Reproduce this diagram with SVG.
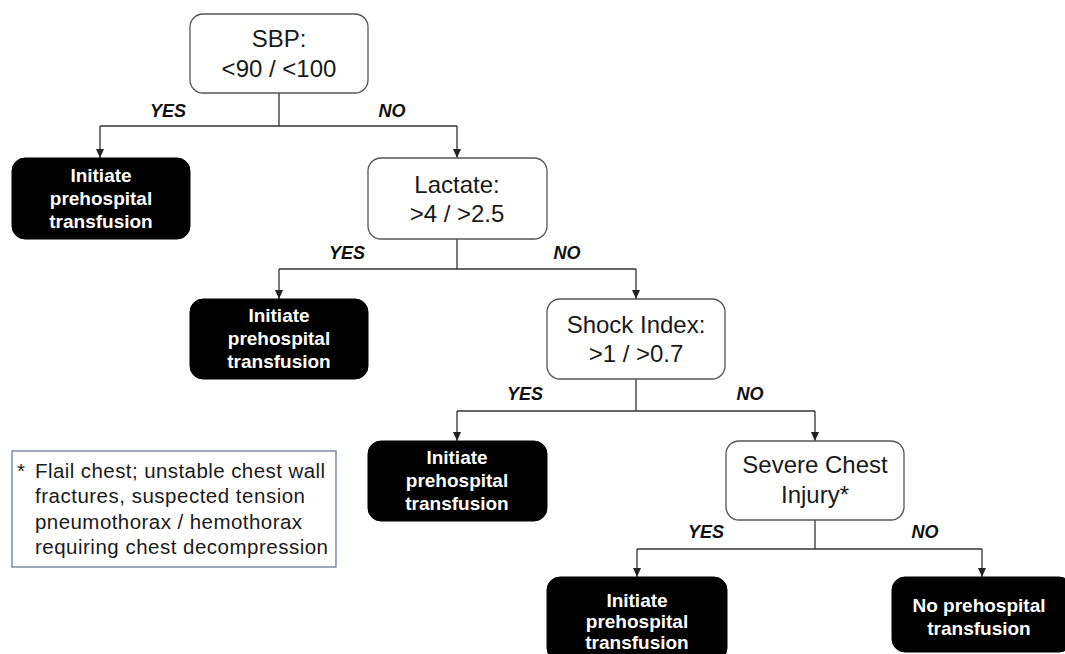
<svg xmlns="http://www.w3.org/2000/svg" width="1065" height="654" viewBox="0 0 1065 654">
<defs>
<style>
.q{fill:#fff;stroke:#555;stroke-width:1.3}
.r{fill:#000;stroke:#000;stroke-width:1}
.qt{font-family:"Liberation Sans",Arial,sans-serif;font-size:24px;fill:#1a1a1a;text-anchor:middle}
.rt{font-family:"Liberation Sans",Arial,sans-serif;font-size:19px;font-weight:bold;fill:#fff;text-anchor:middle}
.lb{font-family:"Liberation Sans",Arial,sans-serif;font-size:18px;font-weight:bold;font-style:italic;fill:#111;text-anchor:middle}
.lg{font-family:"Liberation Sans",Arial,sans-serif;font-size:20.5px;fill:#1a1a1a}
.c{fill:none;stroke:#333;stroke-width:1.3}
</style>
<marker id="ah" markerWidth="8" markerHeight="9" refX="4" refY="9" orient="0" markerUnits="userSpaceOnUse" viewBox="0 0 8 9">
<path d="M0,0 L8,0 L4,9 Z" fill="#222"/>
</marker>
</defs>
<rect width="1065" height="654" fill="#fff"/>
<g id="connectors">
<path class="c" d="M279,93 V126"/>
<path class="c" d="M100,126 H457"/>
<path class="c" d="M100,126 V158" marker-end="url(#ah)"/>
<path class="c" d="M457,126 V158" marker-end="url(#ah)"/>
<path class="c" d="M457,239 V269"/>
<path class="c" d="M279,269 H636"/>
<path class="c" d="M279,269 V299" marker-end="url(#ah)"/>
<path class="c" d="M636,269 V299" marker-end="url(#ah)"/>
<path class="c" d="M636,379 V411"/>
<path class="c" d="M457,411 H815"/>
<path class="c" d="M457,411 V441" marker-end="url(#ah)"/>
<path class="c" d="M815,411 V441" marker-end="url(#ah)"/>
<path class="c" d="M815,520 V549"/>
<path class="c" d="M637,549 H982"/>
<path class="c" d="M637,549 V577" marker-end="url(#ah)"/>
<path class="c" d="M982,549 V577" marker-end="url(#ah)"/>
<text class="lb" x="168" y="117">YES</text>
<text class="lb" x="392" y="117">NO</text>
<text class="lb" x="347" y="259">YES</text>
<text class="lb" x="567" y="259">NO</text>
<text class="lb" x="525" y="400">YES</text>
<text class="lb" x="750" y="400">NO</text>
<text class="lb" x="706" y="538">YES</text>
<text class="lb" x="925" y="538">NO</text>
</g>
<g id="sbp">
<rect class="q" x="190" y="14" width="178" height="79" rx="13"/>
<text class="qt" x="279" y="47">SBP:</text>
<text class="qt" x="279" y="77">&lt;90 / &lt;100</text>
</g>
<g id="transfusion1">
<rect class="r" x="12" y="158" width="178" height="81" rx="13"/>
<text class="rt" x="101" y="182">Initiate</text>
<text class="rt" x="101" y="205">prehospital</text>
<text class="rt" x="101" y="228">transfusion</text>
</g>
<g id="lactate">
<rect class="q" x="368" y="158" width="179" height="81" rx="13"/>
<text class="qt" x="457" y="193">Lactate:</text>
<text class="qt" x="457" y="222">&gt;4 / &gt;2.5</text>
</g>
<g id="transfusion2">
<rect class="r" x="190" y="299" width="178" height="80" rx="13"/>
<text class="rt" x="279" y="322">Initiate</text>
<text class="rt" x="279" y="345">prehospital</text>
<text class="rt" x="279" y="368">transfusion</text>
</g>
<g id="shock">
<rect class="q" x="547" y="299" width="178" height="80" rx="13"/>
<text class="qt" x="636" y="333">Shock Index:</text>
<text class="qt" x="636" y="362">&gt;1 / &gt;0.7</text>
</g>
<g id="transfusion3">
<rect class="r" x="368" y="441" width="179" height="80" rx="13"/>
<text class="rt" x="457" y="464">Initiate</text>
<text class="rt" x="457" y="487">prehospital</text>
<text class="rt" x="457" y="510">transfusion</text>
</g>
<g id="chest">
<rect class="q" x="726" y="441" width="178" height="79" rx="13"/>
<text class="qt" x="815" y="473">Severe Chest</text>
<text class="qt" x="815" y="503">Injury*</text>
</g>
<g id="transfusion4">
<rect class="r" x="547" y="577" width="180" height="84" rx="13"/>
<text class="rt" x="637" y="607">Initiate</text>
<text class="rt" x="637" y="628">prehospital</text>
<text class="rt" x="637" y="649">transfusion</text>
</g>
<g id="notransfusion">
<rect class="r" x="892" y="577" width="180" height="75" rx="13"/>
<text class="rt" x="979" y="612">No prehospital</text>
<text class="rt" x="979" y="635">transfusion</text>
</g>
<g id="legend">
<rect x="12" y="451" width="324" height="116" fill="#fff" stroke="#6b7b96" stroke-width="1.3"/>
<text class="lg" x="17" y="478">*</text>
<text class="lg" x="35" y="478" textLength="290" lengthAdjust="spacing">Flail chest; unstable chest wall</text>
<text class="lg" x="35" y="503" textLength="270" lengthAdjust="spacing">fractures, suspected tension</text>
<text class="lg" x="35" y="529" textLength="267" lengthAdjust="spacing">pneumothorax  / hemothorax</text>
<text class="lg" x="35" y="554" textLength="293" lengthAdjust="spacing">requiring chest decompression</text>
</g>
</svg>
